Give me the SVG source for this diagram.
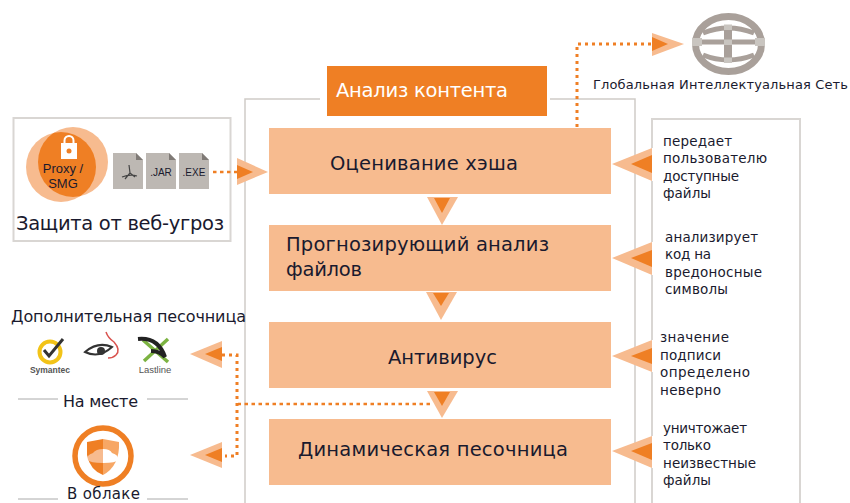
<svg xmlns="http://www.w3.org/2000/svg" width="850" height="503" viewBox="0 0 850 503">
<style>
text{font-family:"DejaVu Sans","Liberation Sans",sans-serif;fill:#1a1a2e}
.frame{fill:#fff;stroke:#d9d6d3;stroke-width:2}
.box{fill:#f7bb8f}
.outer{fill:#f7bb8f}
.inner{fill:#ef7f24}
.dot{fill:none;stroke:#ef7f24;stroke-width:3;stroke-dasharray:3 4}
.thin{stroke-width:2.5;stroke-dasharray:3.5 3.5}
.big{font-size:19.5px}
.small{font-size:13.5px}
.label{font-size:16px}
.line{stroke:#aaa;stroke-width:1}
.doc{fill:#bdb8b3}
.fold{fill:#7f7a76}
.sans{font-family:"Liberation Sans",sans-serif}
</style>
<defs><clipPath id="c1"><circle cx="61" cy="167" r="35"/></clipPath></defs>
<rect x="0" y="0" width="850" height="503" fill="#fff"/>
<g id="container">
<path d="M320 99H245V503M550 99H635V503" fill="none" stroke="#cfcbc7" stroke-width="1.5"/>
</g>
<g id="title"><rect x="327" y="66" width="220" height="50" fill="#ef7f24"/><text x="336" y="97" font-size="19.500" textLength="172" style="fill:#fff">Анализ контента</text></g>
<g id="hash"><rect class="box" x="269" y="128" width="342" height="66"/><text class="big" x="330" y="170" textLength="188">Оценивание хэша</text></g>
<g id="predict"><rect class="box" x="269" y="225" width="342" height="66"/><text class="big" x="286" y="251" textLength="263">Прогнозирующий анализ</text><text class="big" x="286" y="276" textLength="76">файлов</text></g>
<g id="antivirus"><rect class="box" x="269" y="322" width="342" height="66"/><text class="big" x="388" y="364" textLength="109">Антивирус</text></g>
<g id="sandbox"><rect class="box" x="269" y="419" width="342" height="66"/><text class="big" x="298" y="456" textLength="270">Динамическая песочница</text></g>
<g id="notes">
<path d="M652 148V119H800V503M652 181V242M652 275V340M652 372V436M652 468V503" fill="none" stroke="#d9d6d3" stroke-width="2"/>
<text class="small" x="663" y="146" textLength="69">передает</text><text class="small" x="663" y="163" textLength="104">пользователю</text><text class="small" x="663" y="181" textLength="76">доступные</text><text class="small" x="663" y="198" textLength="48">файлы</text>
<text class="small" x="665" y="242" textLength="93">анализирует</text><text class="small" x="665" y="259" textLength="46">код на</text><text class="small" x="665" y="277" textLength="97">вредоносные</text><text class="small" x="665" y="294" textLength="63">символы</text>
<text class="small" x="660" y="342" textLength="69">значение</text><text class="small" x="660" y="360" textLength="61">подписи</text><text class="small" x="660" y="377" textLength="90">определено</text><text class="small" x="660" y="395" textLength="61">неверно</text>
<text class="small" x="663" y="433" textLength="84">уничтожает</text><text class="small" x="663" y="450" textLength="48">только</text><text class="small" x="663" y="468" textLength="93">неизвестные</text><text class="small" x="663" y="485" textLength="48">файлы</text>
</g>
<g id="web">
<rect class="frame" x="13.500" y="118" width="217" height="123"/>
<circle cx="61" cy="167" r="35" fill="#f7bb8f"/><circle cx="73" cy="162" r="35" fill="#f7bb8f"/>
<circle cx="73" cy="162" r="35" fill="#ef7f24" clip-path="url(#c1)"/>
<rect x="61" y="143" width="16" height="16" fill="#fff"/><path d="M64.500 143v-2.500a4.500 4.500 0 0 1 9 0v2.500" fill="none" stroke="#fff" stroke-width="2"/><circle cx="69" cy="151" r="2.500" fill="#ef7f24"/>
<text class="sans" x="63" y="173" font-size="13" text-anchor="middle">Proxy /</text><text class="sans" x="63" y="188" font-size="13" text-anchor="middle">SMG</text>
<g id="docs">
<path class="doc" d="M113 153H136L143 160V189H113Z"/><path class="fold" d="M136 153L143 160H136Z"/>
<path class="doc" d="M146 153H169L176 160V189H146Z"/><path class="fold" d="M169 153L176 160H169Z"/>
<path class="doc" d="M179 153H202L209 160V189H179Z"/><path class="fold" d="M202 153L209 160H202Z"/>
<path d="M122 177q8 -3 15 -1M129 165l1 8l-5 6M130 173l5 4" fill="none" stroke="#444" stroke-width="1.200"/>
<text class="sans" x="161" y="176" font-size="10" text-anchor="middle">.JAR</text><text class="sans" x="194" y="176" font-size="10" text-anchor="middle">.EXE</text>
</g>
<text x="16" y="230" font-size="19.500" textLength="208">Защита от веб-угроз</text>
</g>
<g id="onprem">
<text class="label" x="11" y="322" textLength="235">Дополнительная песочница</text>
<circle cx="50" cy="352" r="10.500" fill="none" stroke="#f2c318" stroke-width="4"/><path d="M44 350l5 6l14 -17" fill="none" stroke="#333" stroke-width="3"/>
<text class="sans" x="50" y="373" font-size="8.500" text-anchor="middle" font-weight="bold" style="fill:#555">Symantec</text>
<path d="M85 352q13 -11 27 -5q-13 12 -27 5Z" fill="none" stroke="#333" stroke-width="2"/><circle cx="101" cy="351" r="4" fill="#333"/>
<path d="M106 332q2 6 8 10q7 8 2 13q-3 3 -8 3" fill="none" stroke="#d9534f" stroke-width="1.500"/>
<path d="M144 361L168 339M143 340L168 362" fill="none" stroke="#7cb342" stroke-width="3.500"/>
<path d="M138 339q20 -2 27 18q-5 -6 -14 -6" fill="none" stroke="#222" stroke-width="4"/>
<text class="sans" x="155" y="373" font-size="9.500" text-anchor="middle" style="fill:#555">Lastline</text>
<path class="line" d="M18 399H58M147 399H188M18 499H58M147 499H188"/>
<text class="label" x="63" y="407" textLength="75">На месте</text>
<circle cx="103" cy="456" r="28" fill="#fff" stroke="#ef7f24" stroke-width="5.500"/>
<path d="M87 442L103 439V475Q90 470 87 455Z" fill="#ef7f24"/><path d="M103 439L119 442Q120 466 103 475Z" fill="#f7a765"/>
<path d="M103 449Q96 449 93 453Q86 455 88 460Q90 463 103 463Z" fill="#f7bb8f"/><path d="M103 449Q110 449 112 453Q119 455 118 460Q116 463 103 463Z" fill="#fff"/>
<text x="67" y="499" font-size="15" textLength="73">В облаке</text>
</g>
<g id="globe">
<ellipse cx="728.500" cy="44" rx="33" ry="27.500" fill="none" stroke="#a9a09a" stroke-width="7"/>
<path d="M698 42H759M703 33Q728 23 754 33M703 55Q728 65 754 55" fill="none" stroke="#a9a09a" stroke-width="5"/>
<path d="M728 27V60" stroke="#a9a09a" stroke-width="8"/>
<path d="M728 24.500V30M728 39.500V45M728 57.500V63M692 42H702M755 42H765" stroke="#c9c5c0" stroke-width="8" fill="none"/>
<text x="593" y="89" font-size="13" textLength="255">Глобальная Интеллектуальная Сеть</text>
</g>
<g id="connectors">
<path class="dot" d="M577 127V44H652"/>
<path class="dot thin" d="M213 172H238"/>
<path class="dot thin" d="M430 404H238"/>
<path class="dot" d="M222 355H237V456H225"/>
<path class="outer" d="M652 33L684 44L652 56Z"/><path class="inner" d="M652 37L668 44L652 51Z"/>
<path class="outer" d="M237 158L268 172L237 185Z"/><path class="inner" d="M237 165L253 172L237 179Z"/>
<path class="outer" d="M222 341L190 354L222 368Z"/><path class="inner" d="M222 347L205 354L222 361Z"/>
<path class="outer" d="M222 442L190 455L222 468Z"/><path class="inner" d="M222 448L205 455L222 462Z"/>
<path class="outer" d="M652 148L612 164L652 181Z"/><path class="inner" d="M652 155L631 164L652 173Z"/>
<path class="outer" d="M652 242L612 258L652 275Z"/><path class="inner" d="M652 250L631 258L652 267Z"/>
<path class="outer" d="M652 340L612 356L652 372Z"/><path class="inner" d="M652 348L631 356L652 364Z"/>
<path class="outer" d="M652 436L612 451L652 468Z"/><path class="inner" d="M652 443L631 451L652 460Z"/>
<path class="outer" d="M427 197H458L442 225Z"/><path class="inner" d="M434 198H450L442 213Z"/>
<path class="outer" d="M426 292H457L441 320Z"/><path class="inner" d="M433 293H449L441 306Z"/>
<path class="outer" d="M427 391H458L442 418Z"/><path class="inner" d="M434 392H450L442 406Z"/>
</g>
</svg>
